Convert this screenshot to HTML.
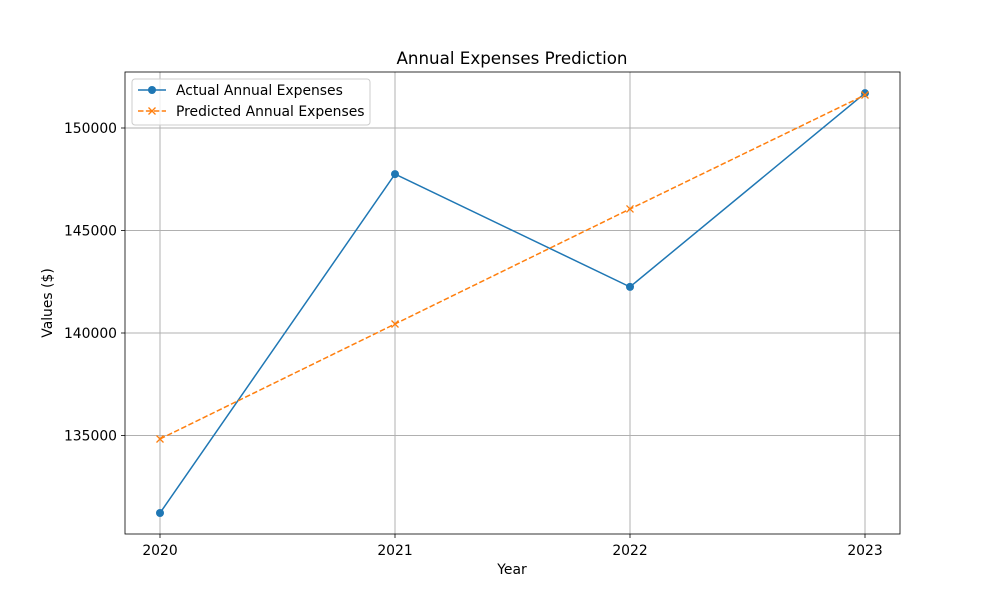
<!DOCTYPE html>
<html><head><meta charset="utf-8"><style>
body{margin:0;background:#fff;font-family:"Liberation Sans","DejaVu Sans",sans-serif}
svg text{font-family:"DejaVu Sans","Liberation Sans",sans-serif;fill:#000}
</style></head><body>
<svg id="chart" width="1000" height="600" xmlns="http://www.w3.org/2000/svg">
<rect width="1000" height="600" fill="#fff"/>
<g id="grid"></g><g id="axes"></g><g id="series"></g>
<rect x="125" y="72" width="775" height="462" fill="none" stroke="#000" stroke-width="0.8"/>
<text x="512" y="64" text-anchor="middle" font-size="16.7">Annual Expenses Prediction</text>
<text x="512" y="574" text-anchor="middle" font-size="13.9">Year</text>
<text transform="translate(52,303) rotate(-90)" text-anchor="middle" font-size="13.9">Values ($)</text>
<g>
<rect x="132" y="79" width="238" height="46" rx="3" fill="#fff" fill-opacity="0.8" stroke="#ccc"/>
<g>
<line x1="138" y1="90" x2="166" y2="90" stroke="#1f77b4" stroke-width="1.5"/>
<circle cx="152" cy="90" r="4" fill="#1f77b4"/>
<text x="176" y="95" font-size="13.9">Actual Annual Expenses</text></g>
<g>
<line x1="138" y1="111" x2="166" y2="111" stroke="#ff7f0e" stroke-width="1.5" stroke-dasharray="5.5,2.4"/>
<path d="M148.5 107.5L155.5 114.5M155.5 107.5L148.5 114.5" stroke="#ff7f0e" stroke-width="1.3"/>
<text x="176" y="116" font-size="13.9">Predicted Annual Expenses</text></g>
</g>
</svg>
<script>
const years=[2020,2021,2022,2023];
const actual=[131220,147750,142250,151700];
const predicted=[134830,140440,146050,151610];
const yTicks=[135000,140000,145000,150000];
const NS="http://www.w3.org/2000/svg";
const xS=v=>160+(v-2020)*235;
const yS=v=>435.5-(v-135000)/5000*102.5;
function mk(tag,attrs,parent){const e=document.createElementNS(NS,tag);for(const k in attrs)e.setAttribute(k,attrs[k]);document.getElementById(parent).appendChild(e);return e;}
years.forEach(y=>{
 const g=mk('line',{x1:xS(y),x2:xS(y),y1:72,y2:534,stroke:'#b0b0b0','stroke-width':1},'grid');
 
 
 mk('line',{x1:xS(y),x2:xS(y),y1:534,y2:538,stroke:'#000','stroke-width':0.8},'axes');
 const t=mk('text',{x:xS(y),y:555,'text-anchor':'middle','font-size':13.9},'axes');t.textContent=y;
 
 
});
yTicks.forEach(v=>{
 const g=mk('line',{x1:125,x2:900,y1:yS(v),y2:yS(v),stroke:'#b0b0b0','stroke-width':1},'grid');
 
 
 mk('line',{x1:121,x2:125,y1:yS(v),y2:yS(v),stroke:'#000','stroke-width':0.8},'axes');
 const t=mk('text',{x:117,y:yS(v)+5,'text-anchor':'end','font-size':13.9},'axes');t.textContent=v;
 
 
});
const pa=mk('polyline',{points:years.map((y,i)=>xS(y)+','+yS(actual[i])).join(' '),fill:'none',stroke:'#1f77b4','stroke-width':1.5},'series');


years.forEach((y,i)=>{
 const c=mk('circle',{cx:xS(y),cy:yS(actual[i]),r:4,fill:'#1f77b4'},'series');
 
 
});
const pp=mk('polyline',{points:years.map((y,i)=>xS(y)+','+yS(predicted[i])).join(' '),fill:'none',stroke:'#ff7f0e','stroke-width':1.5,'stroke-dasharray':'5.5,2.4'},'series');


years.forEach((y,i)=>{
 const x=xS(y),yy=yS(predicted[i]);
 const m=mk('path',{d:`M${x-3.5} ${yy-3.5}L${x+3.5} ${yy+3.5}M${x+3.5} ${yy-3.5}L${x-3.5} ${yy+3.5}`,stroke:'#ff7f0e','stroke-width':1.3},'series');
 
 
});
</script>
</body></html>
